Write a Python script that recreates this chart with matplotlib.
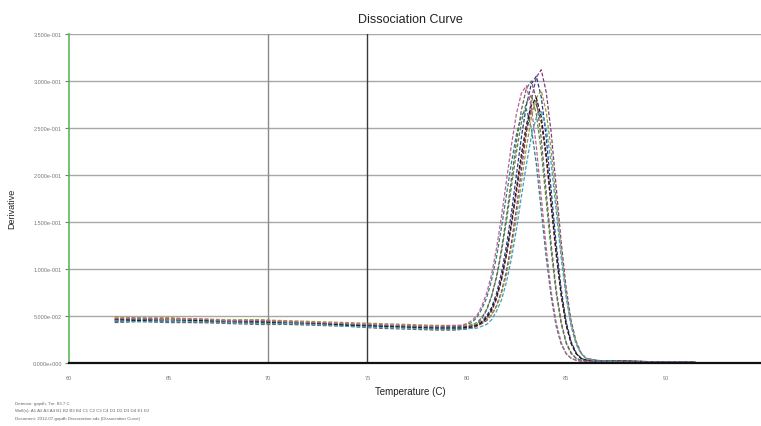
import numpy as np
import matplotlib
matplotlib.use('Agg')
import matplotlib.pyplot as plt

plt.rcParams['font.family'] = ['Liberation Sans', 'DejaVu Sans']

# temperature grid (C)
temps = [62.3, 63.5, 65, 66.5, 68, 69.5, 71, 72.5, 74, 75.5, 77, 78.5,
         79.5, 79.75, 80, 80.25, 80.5, 80.75, 81, 81.25, 81.5, 81.75,
         82, 82.25, 82.5, 82.75, 83, 83.25, 83.5, 83.75, 84, 84.25,
         84.5, 84.75, 85, 85.25, 85.5, 85.75, 86,
         86.5, 87, 88, 90, 91.5]

# derivative values per well
well_1 = [.046, .047, .045, .046, .044, .045, .043, .042, .041, .040, .039, .038,
          .038, .038, .039, .039, .041, .044, .050, .059, .074, .096, .125, .160, .200,
          .240, .274, .297, .305, .283, .240, .183, .127, .079, .044, .023, .011, .005, .003,
          .002, .002, .002, .001, .001]
well_2 = [.048, .047, .048, .046, .045, .046, .044, .043, .041, .040, .038, .037,
          .037, .038, .038, .040, .043, .048, .057, .071, .091, .118, .151, .188, .224,
          .256, .277, .285, .265, .225, .172, .119, .074, .042, .021, .010, .005, .003, .002,
          .002, .002, .001, .001, .001]
well_3 = [.044, .045, .044, .043, .044, .042, .042, .041, .040, .040, .039, .039,
          .039, .039, .039, .040, .040, .042, .045, .051, .061, .076, .098, .128, .164,
          .205, .245, .280, .304, .312, .288, .245, .187, .129, .080, .045, .023, .011, .005,
          .003, .002, .002, .001, .001]
well_4 = [.047, .046, .047, .045, .045, .044, .044, .042, .041, .039, .038, .036,
          .036, .036, .037, .037, .039, .042, .047, .055, .068, .088, .114, .146, .181,
          .216, .247, .268, .275, .256, .217, .166, .115, .072, .040, .021, .010, .005, .003,
          .002, .002, .002, .001, .001]
well_5 = [.045, .046, .046, .044, .045, .043, .043, .042, .041, .040, .039, .038,
          .038, .039, .041, .043, .048, .057, .069, .088, .113, .144, .179, .213, .243,
          .263, .270, .250, .212, .162, .112, .070, .039, .020, .010, .005, .003, .002, .002,
          .002, .002, .001, .001, .001]
well_6 = [.049, .048, .048, .047, .046, .046, .045, .044, .043, .042, .041, .040,
          .040, .040, .040, .041, .041, .043, .046, .051, .060, .074, .094, .121, .155,
          .192, .229, .261, .282, .290, .267, .226, .173, .120, .074, .042, .022, .010, .005,
          .003, .002, .002, .001, .001]
well_7 = [.043, .044, .043, .043, .042, .041, .041, .040, .039, .037, .036, .035,
          .035, .036, .036, .038, .041, .047, .056, .071, .092, .121, .156, .196, .235,
          .269, .292, .300, .281, .238, .182, .126, .078, .044, .022, .011, .005, .003, .002,
          .002, .002, .001, .001, .001]
well_8 = [.046, .045, .046, .045, .043, .044, .042, .042, .040, .039, .038, .037,
          .037, .037, .038, .038, .040, .043, .048, .057, .070, .090, .117, .149, .186,
          .222, .253, .274, .282, .262, .222, .170, .118, .073, .041, .021, .010, .005, .003,
          .002, .002, .002, .001, .001]
well_9 = [.047, .048, .046, .047, .045, .045, .044, .043, .042, .041, .040, .039,
          .040, .040, .042, .045, .050, .060, .074, .094, .122, .156, .194, .232, .265,
          .287, .295, .272, .231, .176, .122, .076, .043, .022, .010, .005, .003, .002, .002,
          .002, .002, .001, .001, .001]
well_10 = [.045, .044, .045, .044, .043, .042, .042, .041, .039, .038, .037, .036,
           .036, .036, .036, .037, .037, .039, .041, .046, .055, .067, .086, .111, .142,
           .177, .211, .241, .261, .268, .250, .212, .162, .112, .070, .039, .020, .010, .005,
           .002, .002, .001, .001, .001]

wells = [well_1, well_2, well_3, well_4, well_5, well_6, well_7, well_8, well_9, well_10]
well_colors = ['#2b3a8c', '#5a8a3c', '#7b3f7f', '#8b3a2a', '#2f7f7f',
               '#9a9a3a', '#666666', '#1a1a1a', '#c06090', '#40a0c0']

yticks = [0.0, 0.05, 0.10, 0.15, 0.20, 0.25, 0.30, 0.35]
xticks = [60, 65, 70, 75, 80, 85, 90]

footer = ['Detector: gapdh, Tm: 83.7 C',
          'Well(s): A1 A2 A3 A4 B1 B2 B3 B4 C1 C2 C3 C4 D1 D2 D3 D4 E1 E2',
          'Document: 2012-07-gapdh Dissociation.sds (Dissociation Curve)']


def sci_label(v):
    if v == 0:
        return '0.000e+000'
    e = int(np.floor(np.log10(abs(v))))
    m = v / 10**e
    return '%.3fe%s%03d' % (m, '-' if e < 0 else '+', abs(e))


fig = plt.figure(figsize=(7.61, 4.27), dpi=100)
ax = fig.add_axes([69/761, 63/427, 692/761, 329/427])

for w, c in zip(wells, well_colors):
    ax.plot(temps, w, color=c, lw=0.9, ls=(0, (3, 1.5)), zorder=3)

ax.set_xlim(60, 94.8)
ax.set_ylim(0, 0.35)

# horizontal grid + the two vertical lines
for y in yticks[1:]:
    ax.axhline(y, color='#a8a8a8', lw=1, zorder=1)
ax.axvline(70, color='#8a8a8a', lw=1, zorder=1)
ax.axvline(75, color='#3a3a3a', lw=1, zorder=1)

ax.set_yticks(yticks)
ax.set_yticklabels([sci_label(v) for v in yticks])
ax.set_xticks(xticks)
ax.set_xticklabels([str(t) for t in xticks])
ax.tick_params(axis='y', labelsize=4, colors='#777777', length=3, pad=2)
ax.tick_params(axis='x', labelsize=4, colors='#777777', length=0, pad=9)

ax.spines['top'].set_visible(False)
ax.spines['right'].set_visible(False)
ax.spines['left'].set_color('#5cb85c')
ax.spines['left'].set_linewidth(1.2)
ax.spines['bottom'].set_color('#111111')
ax.spines['bottom'].set_linewidth(1.6)
ax.spines['bottom'].set_zorder(4)

fig.text(0.539, 0.953, 'Dissociation Curve', ha='center', va='center', fontsize=9, color='#222222')
fig.text(0.016, 0.51, 'Derivative', ha='center', va='center', rotation=90, fontsize=6.5, color='#222222')
fig.text(0.539, 0.082, 'Temperature (C)', ha='center', va='center', fontsize=7, color='#222222')

for i, line in enumerate(footer):
    fig.text(0.02, 0.055 - i * 0.018, line, ha='left', va='center', fontsize=3.2, color='#666666')

fig.savefig('out.png', dpi=100, facecolor='white')
